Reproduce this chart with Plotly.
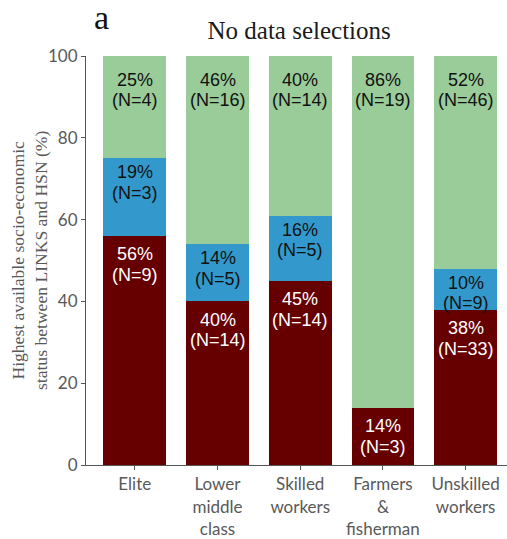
import plotly.graph_objects as go

# Occupational class of the linked persons
categories = ["Elite", "Lower<br>middle<br>class", "Skilled<br>workers",
              "Farmers<br>&<br>fisherman", "Unskilled<br>workers"]

# Share (%) and counts per status group, stacked bottom to top
lower_pct = [56, 40, 45, 14, 38]
lower_n = [9, 14, 14, 3, 33]
same_pct = [19, 14, 16, 0, 10]
same_n = [3, 5, 5, 0, 9]
higher_pct = [25, 46, 40, 86, 52]
higher_n = [4, 16, 14, 19, 46]

y_ticks = [0, 20, 40, 60, 80, 100]

RED = "#660000"
BLUE = "#3399CC"
GREEN = "#99CC99"
LABEL_FONT = "Liberation Sans, Arial, sans-serif"
SERIF = "Liberation Serif, Times New Roman, serif"
LINE_GAP = 20.5  # px between the two label lines

# (values, counts, colour, label colour, first label line below segment top in px)
segments = [
    (lower_pct, lower_n, RED, "white", 18.5),
    (same_pct, same_n, BLUE, "#111111", 14),
    (higher_pct, higher_n, GREEN, "#111111", 23.5),
]

fig = go.Figure()
annotations = []
base = [0] * len(categories)
for pcts, ns, colour, txt_colour, offset in segments:
    fig.add_trace(go.Bar(
        x=categories, y=pcts, marker_color=colour, marker_line_width=0,
        hoverinfo="y",
    ))
    for cat, b, p, n in zip(categories, base, pcts, ns):
        if n == 0:
            continue
        top = min(b + p, 100)
        for line, shift in ((f"{p}%", -offset), (f"(N={n})", -offset - LINE_GAP)):
            annotations.append(dict(
                x=cat, y=top, xref="x", yref="y",
                text=line, showarrow=False,
                xanchor="center", yanchor="middle", yshift=shift,
                font=dict(family=LABEL_FONT, size=18, color=txt_colour),
            ))
    base = [b + p for b, p in zip(base, pcts)]

# Panel letter
annotations.append(dict(
    text="a", xref="paper", yref="paper", x=0.015, y=1.094,
    xanchor="left", yanchor="middle", showarrow=False,
    font=dict(family=SERIF, size=34, color="#111111"),
))
# Y axis title, set a little closer to the tick labels
annotations.append(dict(
    text="Highest available socio-economic<br>status between LINKS and HSN (%)",
    xref="paper", yref="paper", x=-0.134, y=0.5,
    xanchor="center", yanchor="middle", textangle=-90, showarrow=False,
    font=dict(family=SERIF, size=17.6, color="#595959"),
))

fig.update_layout(
    barmode="stack",
    bargap=0.24,
    width=507, height=539,
    margin=dict(l=86, r=0, t=56, b=72),
    plot_bgcolor="white", paper_bgcolor="white",
    showlegend=False,
    title=dict(
        text="No data selections",
        font=dict(family=SERIF, size=25, color="#1a1a1a"),
        x=0.59, xanchor="center", y=0.943, yanchor="middle",
    ),
    annotations=annotations,
)

fig.update_xaxes(
    range=[-0.59, 4.5],
    showline=True, linecolor="#555555", linewidth=1,
    ticks="outside", ticklen=4, tickcolor="#555555",
    tickfont=dict(family="Lato, sans-serif", size=17, color="#595959"),
    showgrid=False,
)
fig.update_yaxes(
    range=[0, 100], tickvals=y_ticks,
    showline=True, linecolor="#555555", linewidth=1,
    ticks="outside", ticklen=4, tickcolor="#555555",
    tickfont=dict(family="Lato, sans-serif", size=17, color="#595959"),
    showgrid=False, zeroline=False,
)

fig.write_html("out.html")
